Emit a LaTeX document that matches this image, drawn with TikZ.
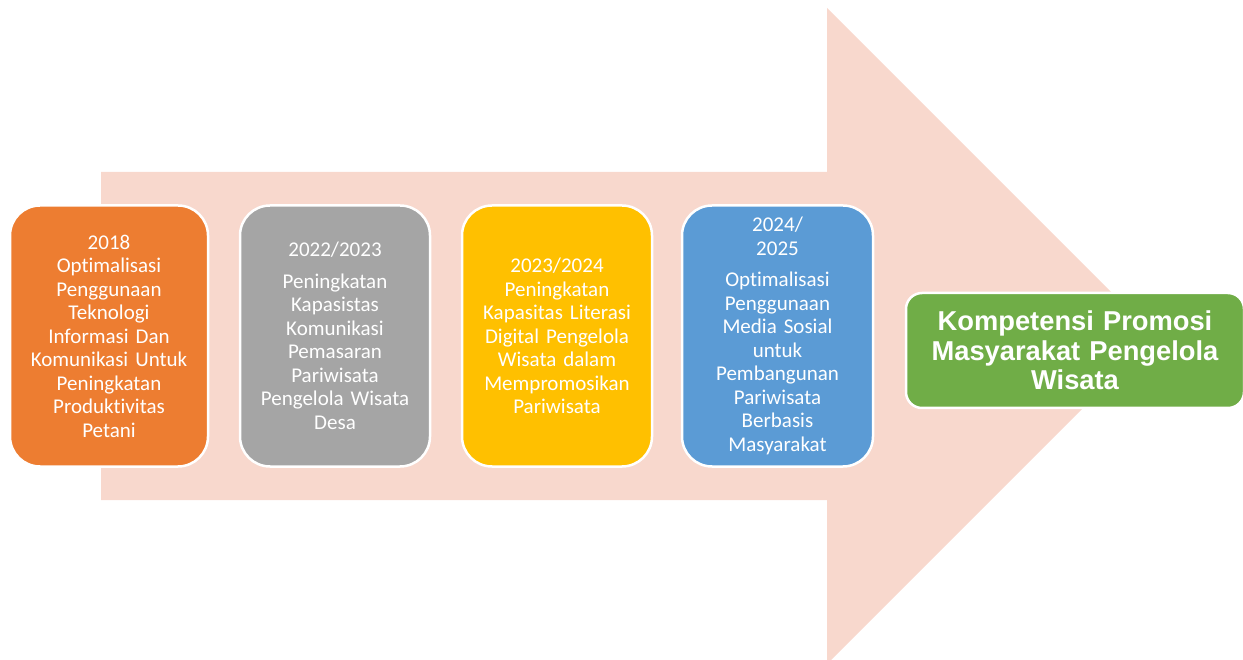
\documentclass[tikz,border=0pt]{standalone}
\usepackage{fontspec}
\setmainfont{Carlito}[RawFeature=-liga]
\newfontfamily\arialfont{Liberation Sans}
\definecolor{arrowpink}{HTML}{F8D8CD}
\definecolor{boxorange}{HTML}{ED7D31}
\definecolor{boxgray}{HTML}{A5A5A5}
\definecolor{boxyellow}{HTML}{FFC000}
\definecolor{boxblue}{HTML}{5B9BD5}
\definecolor{boxgreen}{HTML}{70AD47}
\tikzset{
  stagebox/.style={draw=white, line width=2.5pt, rounded corners=30pt,
    minimum width=197pt, minimum height=261pt, text width=185pt,
    align=center, text=white, inner sep=0pt,
    font=\fontsize{21}{23.5}\selectfont},
  goalbox/.style={draw=white, line width=2.5pt, rounded corners=16pt,
    minimum width=338pt, minimum height=115pt, text width=330pt,
    align=center, text=white, inner sep=0pt,
    font=\arialfont\bfseries\fontsize{27.3}{29.5}\selectfont}
}
\begin{document}
\begin{tikzpicture}[x=1pt,y=-1pt]
\useasboundingbox (0,0) rectangle (1243,660);
\clip (0,0) rectangle (1243,660);
\fill[arrowpink] (101,172) -- (827,172) -- (827,8) -- (1155,336)
  -- (827,664) -- (827,500) -- (101,500) -- cycle;
\node[stagebox, fill=boxorange, minimum width=198pt] (s1) at (109,336)
  {2018\\Optimalisasi\\Penggunaan\\Teknologi\\Informasi Dan\\Komunikasi Untuk\\Peningkatan\\Produktivitas\\Petani};
\node[stagebox, fill=boxgray, minimum width=190pt] (s2) at (335,336)
  {2022/2023\\[8pt]Peningkatan\\Kapasistas\\Komunikasi\\Pemasaran\\Pariwisata\\Pengelola Wisata\\Desa};
\node[stagebox, fill=boxyellow, minimum width=190pt] (s3) at (557,336)
  {2023/2024\\Peningkatan\\Kapasitas Literasi\\Digital Pengelola\\Wisata dalam\\Mempromosikan\\Pariwisata};
\node[stagebox, fill=boxblue, minimum width=191pt] (s4) at (777.5,336)
  {2024/\\2025\\[8pt]Optimalisasi\\Penggunaan\\Media Sosial\\untuk\\Pembangunan\\Pariwisata\\Berbasis\\Masyarakat};
\node[goalbox, fill=boxgreen] (goal) at (1075,350.5)
  {Kompetensi Promosi\\Masyarakat Pengelola\\Wisata};
\end{tikzpicture}
\end{document}
